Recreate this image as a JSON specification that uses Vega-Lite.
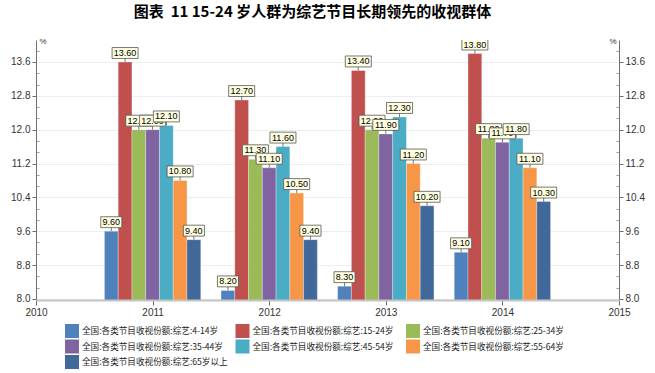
{
  "$schema": "https://vega.github.io/schema/vega-lite/v6.json",
  "width": 583,
  "height": 260,
  "autosize": {"type": "none"},
  "padding": {"left": 36, "top": 40, "right": 36, "bottom": 73},
  "title": {"text": "图表\u00a0\u00a011 15-24 岁人群为综艺节目长期领先的收视群体", "font": "Noto Sans CJK SC", "fontSize": 15, "fontWeight": "bold", "color": "#000000", "anchor": "middle", "dx": -15, "offset": 17},
  "config": {
    "view": {"stroke": null},
    "axis": {"labelFont": "Liberation Sans", "labelFontSize": 10, "labelColor": "#333333", "domainColor": "#707070", "tickColor": "#707070"}
  },
  "data": {"values": [
    {"year": 2011, "series": "全国:各类节目收视份额:综艺:4-14岁", "value": 9.6},
    {"year": 2011, "series": "全国:各类节目收视份额:综艺:15-24岁", "value": 13.6},
    {"year": 2011, "series": "全国:各类节目收视份额:综艺:25-34岁", "value": 12.0},
    {"year": 2011, "series": "全国:各类节目收视份额:综艺:35-44岁", "value": 12.0},
    {"year": 2011, "series": "全国:各类节目收视份额:综艺:45-54岁", "value": 12.1},
    {"year": 2011, "series": "全国:各类节目收视份额:综艺:55-64岁", "value": 10.8},
    {"year": 2011, "series": "全国:各类节目收视份额:综艺:65岁以上", "value": 9.4},
    {"year": 2012, "series": "全国:各类节目收视份额:综艺:4-14岁", "value": 8.2},
    {"year": 2012, "series": "全国:各类节目收视份额:综艺:15-24岁", "value": 12.7},
    {"year": 2012, "series": "全国:各类节目收视份额:综艺:25-34岁", "value": 11.3},
    {"year": 2012, "series": "全国:各类节目收视份额:综艺:35-44岁", "value": 11.1},
    {"year": 2012, "series": "全国:各类节目收视份额:综艺:45-54岁", "value": 11.6},
    {"year": 2012, "series": "全国:各类节目收视份额:综艺:55-64岁", "value": 10.5},
    {"year": 2012, "series": "全国:各类节目收视份额:综艺:65岁以上", "value": 9.4},
    {"year": 2013, "series": "全国:各类节目收视份额:综艺:4-14岁", "value": 8.3},
    {"year": 2013, "series": "全国:各类节目收视份额:综艺:15-24岁", "value": 13.4},
    {"year": 2013, "series": "全国:各类节目收视份额:综艺:25-34岁", "value": 12.0},
    {"year": 2013, "series": "全国:各类节目收视份额:综艺:35-44岁", "value": 11.9},
    {"year": 2013, "series": "全国:各类节目收视份额:综艺:45-54岁", "value": 12.3},
    {"year": 2013, "series": "全国:各类节目收视份额:综艺:55-64岁", "value": 11.2},
    {"year": 2013, "series": "全国:各类节目收视份额:综艺:65岁以上", "value": 10.2},
    {"year": 2014, "series": "全国:各类节目收视份额:综艺:4-14岁", "value": 9.1},
    {"year": 2014, "series": "全国:各类节目收视份额:综艺:15-24岁", "value": 13.8},
    {"year": 2014, "series": "全国:各类节目收视份额:综艺:25-34岁", "value": 11.8},
    {"year": 2014, "series": "全国:各类节目收视份额:综艺:35-44岁", "value": 11.7},
    {"year": 2014, "series": "全国:各类节目收视份额:综艺:45-54岁", "value": 11.8},
    {"year": 2014, "series": "全国:各类节目收视份额:综艺:55-64岁", "value": 11.1},
    {"year": 2014, "series": "全国:各类节目收视份额:综艺:65岁以上", "value": 10.3}
  ]},
  "layer": [
    {
      "encoding": {
        "x": {"field": "year", "type": "ordinal", "scale": {"domain": [2011, 2012, 2013, 2014], "paddingInner": 0.174, "paddingOuter": 0.587}, "axis": null},
        "xOffset": {"field": "series", "type": "nominal", "scale": {"paddingInner": 0, "paddingOuter": 0, "domain": ["全国:各类节目收视份额:综艺:4-14岁", "全国:各类节目收视份额:综艺:15-24岁", "全国:各类节目收视份额:综艺:25-34岁", "全国:各类节目收视份额:综艺:35-44岁", "全国:各类节目收视份额:综艺:45-54岁", "全国:各类节目收视份额:综艺:55-64岁", "全国:各类节目收视份额:综艺:65岁以上"]}},
        "y": {"field": "value", "type": "quantitative", "scale": {"domain": [7.973, 14.12], "zero": false, "nice": false},
          "axis": {"values": [8.0, 8.8, 9.6, 10.4, 11.2, 12.0, 12.8, 13.6], "format": ".1f", "grid": true, "gridColor": "#eeeeee", "tickSize": 4, "labelPadding": 2, "title": "%", "titleAngle": 0, "titleX": 3, "titleY": 1, "titleAlign": "left", "titleBaseline": "middle", "titleFontSize": 8, "titleFontWeight": "normal", "titleColor": "#333333", "titleFont": "Liberation Sans"}}
      },
      "layer": [
        {
          "mark": {"type": "bar", "stroke": "#ffffff", "strokeWidth": 0.5, "strokeOpacity": 0.6, "clip": true},
          "encoding": {
            "color": {"field": "series", "type": "nominal",
              "scale": {"domain": ["全国:各类节目收视份额:综艺:4-14岁", "全国:各类节目收视份额:综艺:15-24岁", "全国:各类节目收视份额:综艺:25-34岁", "全国:各类节目收视份额:综艺:35-44岁", "全国:各类节目收视份额:综艺:45-54岁", "全国:各类节目收视份额:综艺:55-64岁", "全国:各类节目收视份额:综艺:65岁以上"],
                "range": ["#4F81BD", "#C0504D", "#9BBB59", "#8064A2", "#4BACC6", "#F79646", "#41689B"]},
              "legend": {"orient": "none", "legendX": 29, "legendY": 284, "columns": 3, "direction": "horizontal", "title": null, "symbolType": "square", "symbolSize": 196, "symbolStrokeWidth": 0, "symbolOpacity": 1, "labelFont": "Noto Sans CJK SC", "labelFontSize": 8.6, "labelColor": "#222222", "columnPadding": 7.5, "rowPadding": 1.5, "gridAlign": "all", "labelOffset": 3, "padding": 0, "labelLimit": 300}}
          }
        },
        {"transform": [{"filter": "datum.series == '全国:各类节目收视份额:综艺:4-14岁'"}],
         "mark": {"type": "point", "filled": true, "fill": "#ffffe1", "stroke": "#555555", "strokeWidth": 0.8, "size": 676, "yOffset": -9, "opacity": 1, "clip": true},
         "encoding": {"shape": {"condition": {"test": "datum.value >= 10", "value": "M-1,-0.42H1V0.42H-1Z M0,0.42V0.69"}, "value": "M-0.81,-0.42H0.81V0.42H-0.81Z M0,0.42V0.69"}}},
        {"transform": [{"filter": "datum.series == '全国:各类节目收视份额:综艺:4-14岁'"}],
         "mark": {"type": "text", "font": "Liberation Sans", "fontSize": 9, "color": "#000000", "dy": -9, "baseline": "middle", "align": "center", "clip": true},
         "encoding": {"text": {"field": "value", "type": "quantitative", "format": ".2f"}}},
        {"transform": [{"filter": "datum.series == '全国:各类节目收视份额:综艺:15-24岁'"}],
         "mark": {"type": "point", "filled": true, "fill": "#ffffe1", "stroke": "#555555", "strokeWidth": 0.8, "size": 676, "yOffset": -9, "opacity": 1, "clip": true},
         "encoding": {"shape": {"condition": {"test": "datum.value >= 10", "value": "M-1,-0.42H1V0.42H-1Z M0,0.42V0.69"}, "value": "M-0.81,-0.42H0.81V0.42H-0.81Z M0,0.42V0.69"}}},
        {"transform": [{"filter": "datum.series == '全国:各类节目收视份额:综艺:15-24岁'"}],
         "mark": {"type": "text", "font": "Liberation Sans", "fontSize": 9, "color": "#000000", "dy": -9, "baseline": "middle", "align": "center", "clip": true},
         "encoding": {"text": {"field": "value", "type": "quantitative", "format": ".2f"}}},
        {"transform": [{"filter": "datum.series == '全国:各类节目收视份额:综艺:25-34岁'"}],
         "mark": {"type": "point", "filled": true, "fill": "#ffffe1", "stroke": "#555555", "strokeWidth": 0.8, "size": 676, "yOffset": -9, "opacity": 1, "clip": true},
         "encoding": {"shape": {"condition": {"test": "datum.value >= 10", "value": "M-1,-0.42H1V0.42H-1Z M0,0.42V0.69"}, "value": "M-0.81,-0.42H0.81V0.42H-0.81Z M0,0.42V0.69"}}},
        {"transform": [{"filter": "datum.series == '全国:各类节目收视份额:综艺:25-34岁'"}],
         "mark": {"type": "text", "font": "Liberation Sans", "fontSize": 9, "color": "#000000", "dy": -9, "baseline": "middle", "align": "center", "clip": true},
         "encoding": {"text": {"field": "value", "type": "quantitative", "format": ".2f"}}},
        {"transform": [{"filter": "datum.series == '全国:各类节目收视份额:综艺:35-44岁'"}],
         "mark": {"type": "point", "filled": true, "fill": "#ffffe1", "stroke": "#555555", "strokeWidth": 0.8, "size": 676, "yOffset": -9, "opacity": 1, "clip": true},
         "encoding": {"shape": {"condition": {"test": "datum.value >= 10", "value": "M-1,-0.42H1V0.42H-1Z M0,0.42V0.69"}, "value": "M-0.81,-0.42H0.81V0.42H-0.81Z M0,0.42V0.69"}}},
        {"transform": [{"filter": "datum.series == '全国:各类节目收视份额:综艺:35-44岁'"}],
         "mark": {"type": "text", "font": "Liberation Sans", "fontSize": 9, "color": "#000000", "dy": -9, "baseline": "middle", "align": "center", "clip": true},
         "encoding": {"text": {"field": "value", "type": "quantitative", "format": ".2f"}}},
        {"transform": [{"filter": "datum.series == '全国:各类节目收视份额:综艺:45-54岁'"}],
         "mark": {"type": "point", "filled": true, "fill": "#ffffe1", "stroke": "#555555", "strokeWidth": 0.8, "size": 676, "yOffset": -9, "opacity": 1, "clip": true},
         "encoding": {"shape": {"condition": {"test": "datum.value >= 10", "value": "M-1,-0.42H1V0.42H-1Z M0,0.42V0.69"}, "value": "M-0.81,-0.42H0.81V0.42H-0.81Z M0,0.42V0.69"}}},
        {"transform": [{"filter": "datum.series == '全国:各类节目收视份额:综艺:45-54岁'"}],
         "mark": {"type": "text", "font": "Liberation Sans", "fontSize": 9, "color": "#000000", "dy": -9, "baseline": "middle", "align": "center", "clip": true},
         "encoding": {"text": {"field": "value", "type": "quantitative", "format": ".2f"}}},
        {"transform": [{"filter": "datum.series == '全国:各类节目收视份额:综艺:55-64岁'"}],
         "mark": {"type": "point", "filled": true, "fill": "#ffffe1", "stroke": "#555555", "strokeWidth": 0.8, "size": 676, "yOffset": -9, "opacity": 1, "clip": true},
         "encoding": {"shape": {"condition": {"test": "datum.value >= 10", "value": "M-1,-0.42H1V0.42H-1Z M0,0.42V0.69"}, "value": "M-0.81,-0.42H0.81V0.42H-0.81Z M0,0.42V0.69"}}},
        {"transform": [{"filter": "datum.series == '全国:各类节目收视份额:综艺:55-64岁'"}],
         "mark": {"type": "text", "font": "Liberation Sans", "fontSize": 9, "color": "#000000", "dy": -9, "baseline": "middle", "align": "center", "clip": true},
         "encoding": {"text": {"field": "value", "type": "quantitative", "format": ".2f"}}},
        {"transform": [{"filter": "datum.series == '全国:各类节目收视份额:综艺:65岁以上'"}],
         "mark": {"type": "point", "filled": true, "fill": "#ffffe1", "stroke": "#555555", "strokeWidth": 0.8, "size": 676, "yOffset": -9, "opacity": 1, "clip": true},
         "encoding": {"shape": {"condition": {"test": "datum.value >= 10", "value": "M-1,-0.42H1V0.42H-1Z M0,0.42V0.69"}, "value": "M-0.81,-0.42H0.81V0.42H-0.81Z M0,0.42V0.69"}}},
        {"transform": [{"filter": "datum.series == '全国:各类节目收视份额:综艺:65岁以上'"}],
         "mark": {"type": "text", "font": "Liberation Sans", "fontSize": 9, "color": "#000000", "dy": -9, "baseline": "middle", "align": "center", "clip": true},
         "encoding": {"text": {"field": "value", "type": "quantitative", "format": ".2f"}}}
      ]
    },
    {
      "mark": {"type": "point", "opacity": 0, "size": 0, "clip": true},
      "encoding": {
        "x": {"field": "year", "type": "quantitative", "scale": {"domain": [2010, 2015], "nice": false, "zero": false},
          "axis": {"tickCount": 5, "format": "d", "grid": false, "domainColor": "#c4c4c4", "domainWidth": 2, "tickColor": "#666666", "tickSize": 5, "labelPadding": 2, "labelFlush": false, "labelOverlap": false, "labelBound": false, "zindex": 1, "title": null}}
      }
    },
    {
      "mark": {"type": "point", "opacity": 0, "size": 0, "clip": true},
      "encoding": {
        "y": {"field": "value", "type": "quantitative", "scale": {"domain": [7.973, 14.12], "zero": false, "nice": false},
          "axis": {"orient": "right", "values": [8.0, 8.8, 9.6, 10.4, 11.2, 12.0, 12.8, 13.6], "format": ".1f", "grid": false, "tickSize": 4, "labelPadding": 2, "title": "%", "titleAngle": 0, "titleX": -3, "titleY": 1, "titleAlign": "right", "titleBaseline": "middle", "titleFontSize": 8, "titleFontWeight": "normal", "titleColor": "#333333", "titleFont": "Liberation Sans"}}
      }
    },
    {
      "mark": {"type": "point", "opacity": 0, "size": 0, "clip": true},
      "encoding": {
        "y": {"field": "value", "type": "quantitative", "scale": {"domain": [7.973, 14.12], "zero": false, "nice": false},
          "axis": {"orient": "left", "values": [8.2667, 8.5333, 9.0667, 9.3333, 9.8667, 10.1333, 10.6667, 10.9333, 11.4667, 11.7333, 12.2667, 12.5333, 13.0667, 13.3333, 13.8667], "labels": false, "domain": false, "grid": false, "tickSize": -3, "tickColor": "#999999", "title": null}}
      }
    },
    {
      "mark": {"type": "point", "opacity": 0, "size": 0, "clip": true},
      "encoding": {
        "y": {"field": "value", "type": "quantitative", "scale": {"domain": [7.973, 14.12], "zero": false, "nice": false},
          "axis": {"orient": "right", "values": [8.2667, 8.5333, 9.0667, 9.3333, 9.8667, 10.1333, 10.6667, 10.9333, 11.4667, 11.7333, 12.2667, 12.5333, 13.0667, 13.3333, 13.8667], "labels": false, "domain": false, "grid": false, "tickSize": -3, "tickColor": "#999999", "title": null}}
      }
    }
  ],
  "resolve": {"scale": {"x": "independent", "y": "independent", "xOffset": "independent"}, "axis": {"x": "independent", "y": "independent"}}
}
